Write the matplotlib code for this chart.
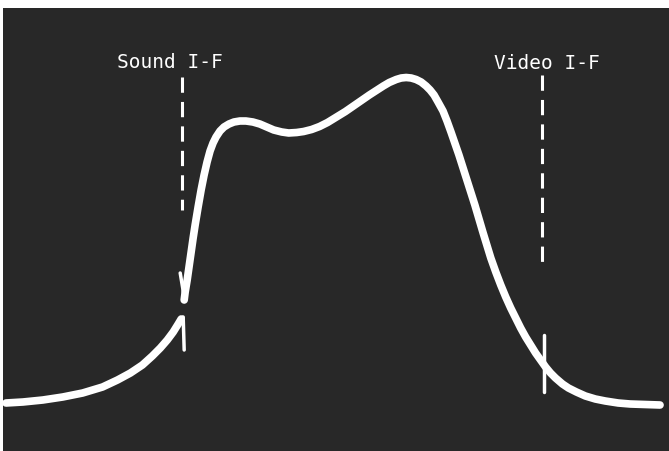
import matplotlib.pyplot as plt

# response curve (x = horizontal position, y = height above bottom edge)
low_x = [3, 20, 40, 60, 80, 100, 115, 128, 140, 150, 158, 165, 171, 176, 179]
low_y = [48, 49, 51, 54, 58, 64, 71, 78, 86, 95, 103, 111, 119, 127, 132]

high_x = [182, 183, 185, 187, 189, 191, 193, 196, 199, 202, 205, 208, 211, 214, 218,
          222, 227, 232, 238, 244, 251, 258, 265, 272, 280, 287, 295, 302, 310, 318,
          326, 335, 344, 352, 360, 368, 375, 382, 388, 395, 400, 405, 410, 415, 420,
          425, 429, 433, 437, 442, 446, 450, 458, 466, 474, 482, 490, 495, 500, 505,
          510, 515, 520, 525, 530, 535, 540, 545, 550, 555, 562, 568, 576, 585, 595,
          605, 618, 630, 645, 660]
high_y = [151, 159, 171, 185, 199, 213, 226, 244, 261, 276, 289, 300, 308, 314, 320,
          324, 327, 329, 330, 330, 329, 327, 324, 321, 319, 318, 318.5, 319.5, 321.5, 324.5,
          328.5, 334, 339.5, 345, 350.5, 356, 360.5, 365, 368.5, 371.5, 373, 373.5, 373, 371.5, 369,
          365, 361, 356, 349, 340, 330, 319, 296, 271, 246, 219, 193, 179, 166, 154,
          143, 133, 123, 114, 106, 98, 91, 84, 78, 73, 67, 63, 59, 55, 52,
          50, 48, 47, 46.5, 46]

# marker pips on the trace
sound_pip_low = ([181, 182], [134, 101])
sound_pip_high = ([182, 178], [154, 178])
video_pip = ([543, 543], [116, 59])

# dashed marker lines and labels
sound_x, sound_top, sound_bottom = 180, 374, 241
video_x, video_top, video_bottom = 541, 376, 186
labels = [("Sound I-F", 168, 389), ("Video I-F", 546, 388)]

fig = plt.figure(figsize=(6.69, 4.51), dpi=100)
fig.patch.set_facecolor('white')
ax = fig.add_axes([3 / 669, 0, 666 / 669, 443 / 451])
ax.set_facecolor('#282828')
ax.set_xlim(0, 669)
ax.set_ylim(0, 443)
ax.set_xticks([])
ax.set_yticks([])
for s in ax.spines.values():
    s.set_visible(False)

trace = dict(color='white', lw=5.5, solid_capstyle='round', solid_joinstyle='round')
ax.plot(low_x, low_y, **trace)
ax.plot(high_x, high_y, **trace)
ax.plot(*sound_pip_low, color='white', lw=2.5, solid_capstyle='round')
ax.plot(*sound_pip_high, color='white', lw=2.5, solid_capstyle='round')
ax.plot(*video_pip, color='white', lw=2.5, solid_capstyle='round')

dash = dict(color='white', lw=2.2, dashes=(5, 3))
ax.plot([sound_x, sound_x], [sound_top, sound_bottom], **dash)
ax.plot([video_x, video_x], [video_top, video_bottom], **dash)

for txt, x, y in labels:
    ax.text(x, y, txt, color='white', fontsize=14, ha='center', va='center',
            family='DejaVu Sans Mono')

fig.savefig('out.png', dpi=100, facecolor=fig.get_facecolor())
